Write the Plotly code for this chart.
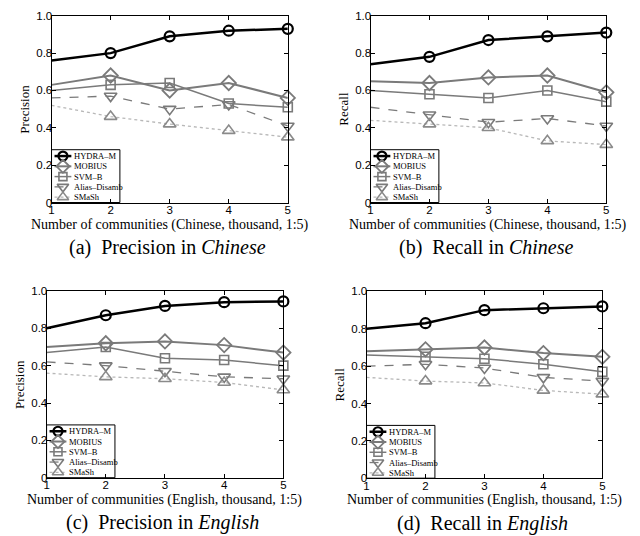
import plotly.graph_objects as go

# ---------------- data ----------------
x_vals = [1, 2, 3, 4, 5]
methods = ["HYDRA\u2013M", "MOBIUS", "SVM\u2013B", "Alias\u2013Disamb", "SMaSh"]

prec_chinese = {
    "HYDRA\u2013M": [0.76, 0.80, 0.89, 0.92, 0.93],
    "MOBIUS": [0.63, 0.68, 0.60, 0.64, 0.56],
    "SVM\u2013B": [0.60, 0.63, 0.64, 0.53, 0.51],
    "Alias\u2013Disamb": [0.56, 0.57, 0.50, 0.525, 0.41],
    "SMaSh": [0.52, 0.46, 0.42, 0.385, 0.35],
}
recall_chinese = {
    "HYDRA\u2013M": [0.74, 0.78, 0.87, 0.89, 0.91],
    "MOBIUS": [0.65, 0.64, 0.67, 0.68, 0.59],
    "SVM\u2013B": [0.60, 0.58, 0.56, 0.60, 0.54],
    "Alias\u2013Disamb": [0.51, 0.47, 0.43, 0.45, 0.41],
    "SMaSh": [0.44, 0.42, 0.40, 0.33, 0.31],
}
prec_english = {
    "HYDRA\u2013M": [0.80, 0.87, 0.92, 0.94, 0.944],
    "MOBIUS": [0.70, 0.72, 0.73, 0.71, 0.67],
    "SVM\u2013B": [0.67, 0.70, 0.64, 0.63, 0.60],
    "Alias\u2013Disamb": [0.62, 0.60, 0.57, 0.54, 0.53],
    "SMaSh": [0.56, 0.54, 0.53, 0.51, 0.47],
}
recall_english = {
    "HYDRA\u2013M": [0.80, 0.83, 0.90, 0.91, 0.92],
    "MOBIUS": [0.68, 0.69, 0.70, 0.67, 0.65],
    "SVM\u2013B": [0.66, 0.65, 0.64, 0.61, 0.57],
    "Alias\u2013Disamb": [0.60, 0.61, 0.59, 0.54, 0.52],
    "SMaSh": [0.54, 0.52, 0.51, 0.47, 0.45],
}

y_tickvals = [0, 0.2, 0.4, 0.6, 0.8, 1.0]
y_ticktext = ["0", "0.2", "0.4", "0.6", "0.8", "1.0"]

panels = [
    dict(data=prec_chinese, ylabel="Precision",
         xlabel="Number of communities (Chinese, thousand, 1:5)",
         caption="(a)  Precision in <i>Chinese</i>",
         xdom=[49, 287.5], ydom=[10, 201]),
    dict(data=recall_chinese, ylabel="Recall",
         xlabel="Number of communities (Chinese, thousand, 1:5)",
         caption="(b)  Recall in <i>Chinese</i>",
         xdom=[371, 609], ydom=[10, 201]),
    dict(data=prec_english, ylabel="Precision",
         xlabel="Number of communities (English, thousand, 1:5)",
         caption="(c)  Precision in <i>English</i>",
         xdom=[44, 283], ydom=[291.5, 482.5]),
    dict(data=recall_english, ylabel="Recall",
         xlabel="Number of communities (English, thousand, 1:5)",
         caption="(d)  Recall in <i>English</i>",
         xdom=[367, 605], ydom=[292, 483]),
]

W, H = 640, 536
GRAY = "#7a7a7a"
styles = {
    "HYDRA\u2013M": dict(lc="black", lw=2.5, dash="solid", sym="circle-open", ms=10, mc="black", mlw=2.2),
    "MOBIUS": dict(lc=GRAY, lw=2.0, dash="solid", sym="diamond-open", ms=11, mc=GRAY, mlw=1.8),
    "SVM\u2013B": dict(lc=GRAY, lw=1.5, dash="solid", sym="square-open", ms=9, mc=GRAY, mlw=1.6),
    "Alias\u2013Disamb": dict(lc=GRAY, lw=1.3, dash="dash", sym="triangle-down-open", ms=11, mc=GRAY, mlw=1.6),
    "SMaSh": dict(lc="#b8b8b8", lw=1.3, dash="dot", sym="triangle-up-open", ms=11, mc="#8a8a8a", mlw=1.6),
}

SERIF = "Liberation Serif"
SANS = "Liberation Sans"

fig = go.Figure()
layout = dict(width=W, height=H, margin=dict(l=0, r=0, t=0, b=0),
              paper_bgcolor="white", plot_bgcolor="white", showlegend=False)
shapes = []
annotations = []

LEG_W, LEG_H = 69, 54
row_px = [47.5, 37, 26.5, 16, 5.5]  # px above axis bottom

for i, p in enumerate(panels):
    n = "" if i == 0 else str(i + 1)
    xa, ya = "x" + n, "y" + n
    x0p, x1p = p["xdom"]
    y0p, y1p = p["ydom"]
    axw = x1p - x0p
    axh = y1p - y0p
    layout["xaxis" + n] = dict(
        domain=[x0p / W, x1p / W], range=[1, 5], anchor=ya,
        tickvals=x_vals, ticktext=[str(v) for v in x_vals],
        ticks="inside", ticklen=4, tickwidth=1, tickcolor="black",
        showline=True, linecolor="black", linewidth=1, mirror="ticks",
        showgrid=False, zeroline=False, ticklabelstandoff=-3,
        tickfont=dict(family=SANS, size=11.5, color="black"),
    )
    layout["yaxis" + n] = dict(
        domain=[1 - y1p / H, 1 - y0p / H], range=[0, 1], anchor=xa,
        tickvals=y_tickvals, ticktext=y_ticktext,
        ticks="inside", ticklen=4, tickwidth=1, tickcolor="black",
        showline=True, linecolor="black", linewidth=1, mirror="ticks",
        showgrid=False, zeroline=False, ticklabelstandoff=-4,
        tickfont=dict(family=SANS, size=11.5, color="black"),
    )
    # legend box background (below traces so legend markers stay visible)
    shapes.append(dict(type="rect", xref=xa + " domain", yref=ya + " domain",
                       x0=0, x1=LEG_W / axw, y0=0, y1=LEG_H / axh,
                       line=dict(color="black", width=1), fillcolor="white",
                       layer="below"))
    # data series
    for m in methods:
        s = styles[m]
        fig.add_trace(go.Scatter(
            x=x_vals, y=p["data"][m], xaxis=xa, yaxis=ya, mode="lines+markers",
            name=m, cliponaxis=False,
            line=dict(color=s["lc"], width=s["lw"], dash=s["dash"]),
            marker=dict(symbol=s["sym"], size=s["ms"], color=s["mc"],
                        opacity=[0, 1, 1, 1, 1],
                        line=dict(width=s["mlw"], color=s["mc"])),
        ))
    sx0, sx1 = 3 / axw, 20 / axw
    for k, m in enumerate(methods):
        s = styles[m]
        yy = row_px[k] / axh
        shapes.append(dict(type="line", xref=xa + " domain", yref=ya + " domain",
                           x0=sx0, x1=sx1, y0=yy, y1=yy, layer="below",
                           line=dict(color=s["lc"], width=s["lw"], dash=s["dash"])))
        fig.add_trace(go.Scatter(
            x=[1 + 4 * (11.5 / axw)], y=[yy], xaxis=xa, yaxis=ya, mode="markers",
            showlegend=False, cliponaxis=False, hoverinfo="skip",
            marker=dict(symbol=s["sym"], size=s["ms"] - 1, color=s["mc"],
                        line=dict(width=s["mlw"], color=s["mc"])),
        ))
        annotations.append(dict(text=m, xref=xa + " domain", yref=ya + " domain",
                                x=21 / axw, y=yy, xanchor="left", yanchor="middle",
                                showarrow=False,
                                font=dict(family=SERIF, size=8.5, color="black")))
    # y title
    annotations.append(dict(text=p["ylabel"], xref=xa + " domain", yref=ya + " domain",
                            x=0, y=0.5, xshift=-27, xanchor="center", yanchor="middle",
                            textangle=-90, showarrow=False,
                            font=dict(family=SERIF, size=13, color="black")))
    # x title
    annotations.append(dict(text=p["xlabel"], xref=xa + " domain", yref=ya + " domain",
                            x=0.5, y=0, yshift=-22, xanchor="center", yanchor="middle",
                            showarrow=False,
                            font=dict(family=SERIF, size=14, color="black")))
    # caption
    annotations.append(dict(text=p["caption"], xref=xa + " domain", yref=ya + " domain",
                            x=0.5, y=0, xshift=-2, yshift=-45, xanchor="center", yanchor="middle",
                            showarrow=False,
                            font=dict(family=SERIF, size=20, color="black")))

layout["shapes"] = shapes
layout["annotations"] = annotations
fig.update_layout(**layout)
fig.write_html("out.html", config={"displayModeBar": False},
               post_script="document.body.style.margin='0';document.body.style.overflow='hidden';")
